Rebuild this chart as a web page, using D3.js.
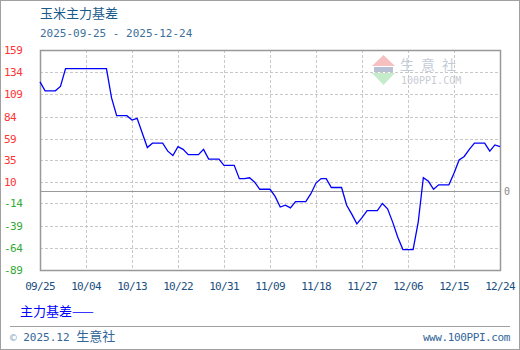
<!DOCTYPE html>
<html>
<head>
<meta charset="utf-8">
<script src="https://cdn.jsdelivr.net/npm/d3@7"></script>
<style>
  body { margin: 0; background: #fff; }
  svg { display: block; }
  .mono { font-family: "DejaVu Sans Mono", "Liberation Mono", monospace; }
  .cjk { font-family: "Noto Sans CJK SC", sans-serif; }
</style>
</head>
<body>
<svg id="chart" width="520" height="350"></svg>
<script>
// basis values (dates as day offsets after 2025-09-25)
const dayOffsets = [0, 1, 3, 4, 5, 13, 14, 15, 17, 18, 19, 21, 22, 24, 25, 26, 27, 28, 29, 31,
  32, 33, 35, 36, 38, 39, 40, 41, 42, 43, 45, 46, 47, 48, 49, 50, 52, 53, 54, 55,
  56, 57, 59, 60, 61, 62, 63, 64, 66, 67, 68, 69, 70, 71, 73, 74, 75, 76, 77, 78,
  80, 81, 82, 83, 84, 85, 87, 88, 89, 90];
const basisValues = [123, 113, 113, 118, 138, 138, 105, 85, 85, 80, 82, 49, 54, 54, 45, 40, 50, 47, 41, 41,
  47, 36, 36, 29, 29, 14, 14, 15, 10, 2, 2, -6, -18, -16, -19, -12, -12, -3, 9, 14,
  14, 4, 4, -16, -26, -37, -30, -22, -22, -14, -20, -35, -52, -66, -66, -35, 15, 11, 2, 7,
  7, 20, 35, 39, 47, 54, 54, 45, 52, 50];
const xTickLabels = ["09/25", "10/04", "10/13", "10/22", "10/31", "11/09", "11/18", "11/27", "12/06", "12/15", "12/24"];
const yTickLabels = [159, 134, 109, 84, 59, 35, 10, -14, -39, -64, -89];

const svg = d3.select("#chart");
const plotL = 40, plotR = 500, plotT = 50, plotB = 270;
const startDate = new Date(2025, 8, 25);
const endDate = new Date(2025, 11, 24);
const addDays = n => d3.timeDay.offset(startDate, n);

const x = d3.scaleTime().domain([startDate, endDate]).range([plotL, plotR]);
const y = d3.scaleLinear().domain([-89, 159]).range([plotB, plotT]);

// outer border
svg.append("rect").attr("x", 0.5).attr("y", 0.5).attr("width", 519).attr("height", 349)
  .attr("fill", "#fff").attr("stroke", "#a0a0a0");

// title
svg.append("text").attr("class", "cjk").attr("x", 40).attr("y", 18)
  .attr("font-size", 13).attr("fill", "#1a5a8a").text("玉米主力基差");
svg.append("text").attr("class", "mono").attr("x", 40).attr("y", 37)
  .attr("font-size", 11).attr("fill", "#3c6f9a").text("2025-09-25 - 2025-12-24");

// watermark
const wm = svg.append("g");
wm.append("path").attr("d", "M372,66 L383.5,55 L395,66 Z").attr("fill", "#f6c0c0");
wm.append("rect").attr("x", 374).attr("y", 67).attr("width", 19).attr("height", 5).attr("fill", "#b8c0d4");
wm.append("path").attr("d", "M372,73 L395,73 L383.5,85 Z").attr("fill", "#c4ecca");
wm.append("text").attr("class", "cjk").attr("x", 400).attr("y", 70).attr("font-size", 14)
  .attr("letter-spacing", 7).attr("fill", "#c4cbd8").text("生意社");
wm.append("text").attr("class", "mono").attr("x", 401).attr("y", 84).attr("font-size", 10)
  .attr("fill", "#c8ccd4").text("100PPI.COM");

// grid
const xTickDates = xTickLabels.map((d, i) => addDays(i * 9));
svg.append("g").selectAll("line").data(xTickDates.slice(1, -1)).join("line")
  .attr("x1", d => Math.round(x(d)) + 0.5).attr("x2", d => Math.round(x(d)) + 0.5)
  .attr("y1", plotT).attr("y2", plotB)
  .attr("stroke", "#c8c8c8").attr("stroke-dasharray", "3,2");
svg.append("g").selectAll("line").data(yTickLabels).join("line")
  .attr("x1", plotL).attr("x2", plotR)
  .attr("y1", d => Math.round(y(d)) + 0.5).attr("y2", d => Math.round(y(d)) + 0.5)
  .attr("stroke", "#c8c8c8").attr("stroke-dasharray", "3,2");

// zero line
svg.append("line").attr("x1", plotL).attr("x2", plotR)
  .attr("y1", Math.round(y(0)) + 0.5).attr("y2", Math.round(y(0)) + 0.5)
  .attr("stroke", "#999");
svg.append("text").attr("class", "mono").attr("x", 504).attr("y", Math.round(y(0)) + 4)
  .attr("font-size", 10).attr("fill", "#888").text("0");

// frame
svg.append("rect").attr("x", plotL + 0.5).attr("y", plotT + 0.5)
  .attr("width", plotR - plotL).attr("height", plotB - plotT)
  .attr("fill", "none").attr("stroke", "#999").attr("stroke-width", 1.5);

// y labels
svg.append("g").selectAll("text").data(yTickLabels).join("text")
  .attr("class", "mono").attr("x", 4).attr("y", d => y(d) + 4)
  .attr("font-size", 11).attr("letter-spacing", -0.5)
  .attr("fill", d => d >= 0 ? "#ff3333" : "#33aa33")
  .text(d => d);

// x labels
svg.append("g").selectAll("text").data(xTickDates).join("text")
  .attr("class", "mono").attr("x", d => x(d)).attr("y", 290)
  .attr("text-anchor", "middle").attr("font-size", 11).attr("letter-spacing", -0.7)
  .attr("fill", "#1a4f80")
  .text((d, i) => xTickLabels[i]);

// series line
const points = dayOffsets.map((d, i) => ({ date: addDays(d), value: basisValues[i] }));
svg.append("path").datum(points)
  .attr("fill", "none").attr("stroke", "#0000ff").attr("stroke-width", 1.3)
  .attr("d", d3.line().x(d => x(d.date)).y(d => y(d.value)));

// legend
svg.append("text").attr("class", "cjk").attr("x", 20).attr("y", 316)
  .attr("font-size", 13).attr("fill", "#0000ff").text("主力基差——");

// footer
svg.append("line").attr("x1", 10).attr("x2", 510).attr("y1", 326.5).attr("y2", 326.5)
  .attr("stroke", "#a0a0a0");
svg.append("text").attr("x", 10).attr("y", 341).attr("font-size", 11).attr("fill", "#336699")
  .html('<tspan class="mono" fill="#8aa8c4">©</tspan><tspan class="mono"> 2025.12 </tspan><tspan class="cjk" font-size="13">生意社</tspan>');
svg.append("text").attr("class", "mono").attr("x", 510).attr("y", 341).attr("text-anchor", "end")
  .attr("font-size", 11).attr("letter-spacing", -0.4).attr("fill", "#336699").text("www.100PPI.com");
</script>
</body>
</html>
